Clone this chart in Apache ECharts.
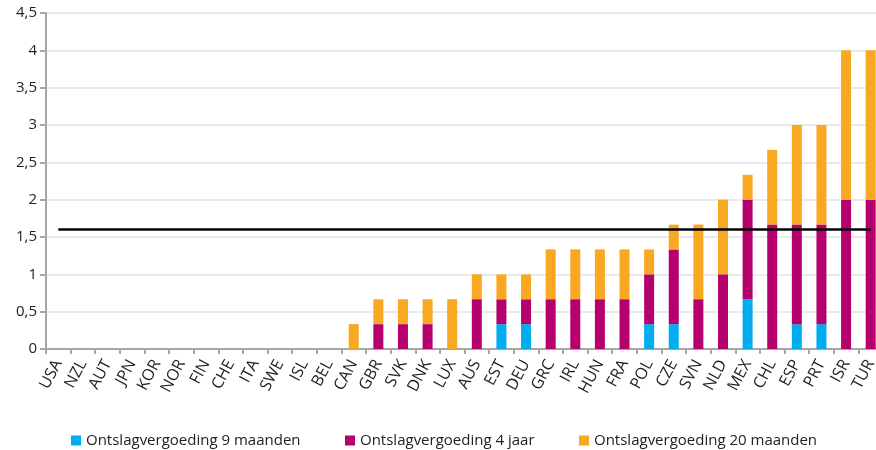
<!DOCTYPE html>
<html>
<head>
<meta charset="utf-8">
<script src="https://cdn.jsdelivr.net/npm/echarts@6/dist/echarts.min.js"></script>
<style>
  html, body { margin: 0; padding: 0; background: #ffffff; overflow: hidden; }
  #chart { width: 883px; height: 450px; }
</style>
</head>
<body>
<div id="chart"></div>
<script>
const categories = ['USA','NZL','AUT','JPN','KOR','NOR','FIN','CHE','ITA','SWE','ISL','BEL','CAN','GBR','SVK','DNK','LUX','AUS','EST','DEU','GRC','IRL','HUN','FRA','POL','CZE','SVN','NLD','MEX','CHL','ESP','PRT','ISR','TUR'];

const seriesNames = ['Ontslagvergoeding 9 maanden', 'Ontslagvergoeding 4 jaar', 'Ontslagvergoeding 20 maanden'];

const values9Maanden = [0,0,0,0,0,0,0,0,0,0,0,0,0,0,0,0,0,0,0.333,0.333,0,0,0,0,0.333,0.333,0,0,0.667,0,0.333,0.333,0,0];
const values4Jaar    = [0,0,0,0,0,0,0,0,0,0,0,0,0,0.333,0.333,0.333,0,0.667,0.333,0.333,0.667,0.667,0.667,0.667,0.667,1,0.667,1,1.333,1.667,1.333,1.333,2,2];
const values20Maanden= [0,0,0,0,0,0,0,0,0,0,0,0,0.333,0.333,0.333,0.333,0.667,0.333,0.333,0.333,0.667,0.667,0.667,0.667,0.333,0.333,1,1,0.333,1,1.333,1.333,2,2];

const threshold = 1.6;
const yTicks = { min: 0, max: 4.5, interval: 0.5 };

const colors = ['#00AEEF', '#B5006E', '#F9A821'];
const font = 'Open Sans';

const chart = echarts.init(document.getElementById('chart'), null, { renderer: 'canvas' });

function legendAt(name, left) {
  return {
    data: [name], left: left, top: 428, icon: 'rect', itemWidth: 10, itemHeight: 10,
    itemGap: 0, selectedMode: false,
    textStyle: { fontFamily: font, fontSize: 15, color: '#222' }
  };
}

chart.setOption({
  animation: false,
  backgroundColor: '#ffffff',
  color: colors,
  grid: { left: 46, right: 0, top: 13, bottom: 101, containLabel: false },
  legend: [
    legendAt(seriesNames[0], 66),
    legendAt(seriesNames[1], 340),
    legendAt(seriesNames[2], 574)
  ],
  xAxis: {
    type: 'category',
    data: categories,
    axisLine: { lineStyle: { color: '#a6a6a6', width: 2 } },
    axisTick: { show: true, length: 5, lineStyle: { color: '#a6a6a6', width: 2 } },
    axisLabel: { rotate: 62, fontFamily: font, fontSize: 16, color: '#222', margin: 12 }
  },
  yAxis: {
    type: 'value',
    min: yTicks.min, max: yTicks.max, interval: yTicks.interval,
    axisLine: { show: true, lineStyle: { color: '#a6a6a6', width: 2 } },
    axisTick: { show: true, length: 6, lineStyle: { color: '#a6a6a6', width: 2 } },
    splitLine: { lineStyle: { color: '#e3e3e3', width: 1.5 } },
    axisLabel: {
      fontFamily: font, fontSize: 15, color: '#222', margin: 9,
      formatter: v => String(v).replace('.', ',')
    }
  },
  series: [
    { name: seriesNames[0], type: 'bar', stack: 'total', barWidth: 10, data: values9Maanden },
    { name: seriesNames[1], type: 'bar', stack: 'total', barWidth: 10, data: values4Jaar },
    {
      name: seriesNames[2], type: 'bar', stack: 'total', barWidth: 10, data: values20Maanden,
      markLine: {
        silent: true, symbol: 'none',
        label: { show: false },
        lineStyle: { color: '#000', width: 2.5, type: 'solid' },
        data: [[ { coord: [categories[0], threshold] }, { coord: [categories[categories.length - 1], threshold] } ]]
      }
    }
  ]
});
</script>
</body>
</html>
